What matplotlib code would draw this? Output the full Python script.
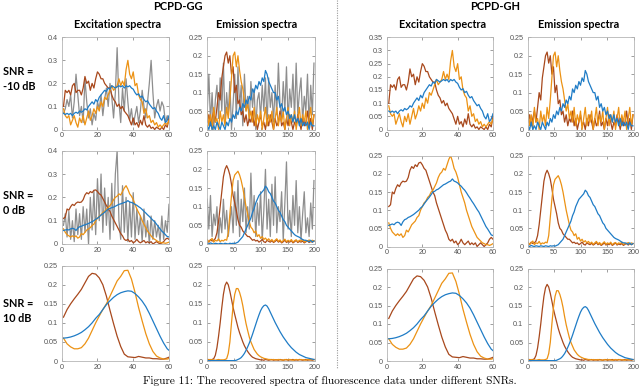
import numpy as np
import matplotlib
matplotlib.use("Agg")
import matplotlib.pyplot as plt
from matplotlib.lines import Line2D
from matplotlib.ticker import FormatStrFormatter, MultipleLocator

# ---- data ----
# excitation: channels 1..60, emission: every 3rd channel 1..199
x_ex = np.arange(1, 61)
x_ex_s = np.arange(1, 62, 2)
x_em = np.arange(1, 200, 3)

# SNR = -10 dB
brown_ex1 = [0.10, 0.17, 0.16, 0.17, 0.15, 0.19, 0.20, 0.16, 0.17, 0.17,
             0.15, 0.18, 0.23, 0.20, 0.21, 0.17, 0.20, 0.18, 0.22, 0.25,
             0.24, 0.22, 0.22, 0.20, 0.19, 0.18, 0.18, 0.15, 0.13, 0.12,
             0.10, 0.11, 0.09, 0.10, 0.08, 0.07, 0.06, 0.04, 0.02, 0.05,
             0.02, 0.03, 0.01, 0.04, 0.02, 0.06, 0.02, 0.01, 0.02, 0.005,
             0.01, 0.0, 0.01, 0.005, 0.0, 0.01, 0.0, 0.02, 0.01, 0.05]
orange_ex1 = [0.09, 0.06, 0.05, 0.06, 0.02, 0.04, 0.06, 0.03, 0.01, 0.05,
              0.03, 0.06, 0.02, 0.05, 0.08, 0.04, 0.06, 0.09, 0.07, 0.10,
              0.08, 0.12, 0.10, 0.14, 0.13, 0.15, 0.17, 0.19, 0.17, 0.18,
              0.19, 0.22, 0.19, 0.21, 0.19, 0.26, 0.30, 0.24, 0.22, 0.25,
              0.19, 0.20, 0.15, 0.13, 0.12, 0.07, 0.09, 0.05, 0.06, 0.03,
              0.04, 0.02, 0.03, 0.01, 0.02, 0.01, 0.02, 0.03, 0.02, 0.04]
blue_ex1 = [0.07, 0.065, 0.07, 0.065, 0.07, 0.06, 0.07, 0.075, 0.07, 0.08,
            0.075, 0.08, 0.09, 0.085, 0.10, 0.11, 0.12, 0.11, 0.13, 0.12,
            0.14, 0.15, 0.16, 0.17, 0.165, 0.18, 0.175, 0.19, 0.185, 0.18,
            0.185, 0.19, 0.185, 0.19, 0.18, 0.19, 0.185, 0.19, 0.18, 0.175,
            0.16, 0.15, 0.155, 0.14, 0.145, 0.13, 0.12, 0.125, 0.11, 0.10,
            0.09, 0.095, 0.08, 0.07, 0.05, 0.04, 0.06, 0.03, 0.04, 0.06]
gray_ex1 = [0.07, 0.09, 0.13, 0.10, 0.15, 0.05, 0.12, 0.24, 0.15, 0.06,
            0.10, 0.03, 0.22, 0.12, 0.05, 0.09, 0.02, 0.07, 0.04, 0.12,
            0.09, 0.15, 0.06, 0.13, 0.18, 0.10, 0.20, 0.14, 0.05, 0.16,
            0.355, 0.12, 0.03, 0.18, 0.08, 0.22, 0.12, 0.04, 0.09, 0.02,
            0.06, 0.10, 0.03, 0.08, 0.17, 0.10, 0.05, 0.12, 0.20, 0.30,
            0.16, 0.05, 0.10, 0.13, 0.08, 0.12, 0.10, 0.03, 0.06, 0.04]

brown_em1 = [0.02, 0.04, 0.01, 0.03, 0.05, 0.02, 0.06, 0.10, 0.08, 0.14,
             0.17, 0.20, 0.21, 0.18, 0.20, 0.15, 0.17, 0.10, 0.12, 0.07,
             0.08, 0.04, 0.05, 0.02, 0.04, 0.01, 0.03, 0.02, 0.05, 0.01,
             0.03, 0.00, 0.02, 0.04, 0.01, 0.02, 0.00, 0.03, 0.01, 0.04,
             0.02, 0.00, 0.03, 0.01, 0.02, 0.05, 0.01, 0.02, 0.00, 0.03,
             0.01, 0.04, 0.02, 0.00, 0.02, 0.01, 0.04, 0.02, 0.00, 0.03,
             0.01, 0.02, 0.05, 0.01, 0.03, 0.00, 0.04]
orange_em1 = [0.05, 0.01, 0.04, 0.00, 0.06, 0.02, 0.03, 0.00, 0.05, 0.02,
              0.04, 0.01, 0.06, 0.03, 0.08, 0.14, 0.20, 0.21, 0.17, 0.20,
              0.16, 0.13, 0.11, 0.08, 0.05, 0.07, 0.03, 0.05, 0.02, 0.06,
              0.01, 0.04, 0.02, 0.05, 0.00, 0.03, 0.06, 0.01, 0.04, 0.02,
              0.05, 0.00, 0.03, 0.06, 0.01, 0.04, 0.02, 0.05, 0.00, 0.03,
              0.06, 0.01, 0.04, 0.02, 0.05, 0.00, 0.03, 0.06, 0.01, 0.04,
              0.02, 0.05, 0.00, 0.03, 0.06, 0.01, 0.04]
blue_em1 = [0.01, 0.00, 0.02, 0.00, 0.01, 0.00, 0.02, 0.01, 0.00, 0.02,
            0.01, 0.00, 0.02, 0.01, 0.03, 0.02, 0.04, 0.03, 0.05, 0.04,
            0.06, 0.05, 0.07, 0.06, 0.08, 0.07, 0.09, 0.08, 0.11, 0.10,
            0.12, 0.11, 0.13, 0.12, 0.14, 0.13, 0.16, 0.15, 0.13, 0.12,
            0.11, 0.10, 0.10, 0.08, 0.09, 0.06, 0.07, 0.05, 0.06, 0.04,
            0.05, 0.03, 0.04, 0.02, 0.04, 0.02, 0.03, 0.01, 0.03, 0.01,
            0.02, 0.01, 0.02, 0.00, 0.02, 0.01, 0.01]
gray_em1 = [0.05, 0.15, 0.02, 0.10, 0.00, 0.08, 0.12, 0.03, 0.14, 0.05,
            0.18, 0.02, 0.10, 0.04, 0.13, 0.00, 0.07, 0.15, 0.03, 0.17,
            0.06, 0.12, 0.01, 0.15, 0.05, 0.09, 0.02, 0.13, 0.06, 0.11,
            0.00, 0.08, 0.10, 0.03, 0.12, 0.05, 0.14, 0.01, 0.14, 0.06,
            0.10, 0.02, 0.12, 0.04, 0.18, 0.07, 0.03, 0.13, 0.05, 0.17,
            0.02, 0.11, 0.06, 0.15, 0.03, 0.18, 0.04, 0.10, 0.14, 0.02,
            0.09, 0.05, 0.15, 0.01, 0.12, 0.04, 0.18]

# SNR = 0 dB
brown_ex2 = [0.11, 0.115, 0.15, 0.145, 0.16, 0.17, 0.165, 0.175, 0.18, 0.178,
             0.18, 0.19, 0.21, 0.22, 0.215, 0.225, 0.22, 0.23, 0.232, 0.225,
             0.215, 0.21, 0.195, 0.18, 0.165, 0.15, 0.14, 0.12, 0.105, 0.09,
             0.075, 0.06, 0.045, 0.035, 0.02, 0.015, 0.02, 0.01, 0.015, 0.005,
             0.01, 0.02, 0.01, 0.005, 0.01, 0.015, 0.005, 0.01, 0.005, 0.01,
             0.0, 0.005, 0.01, 0.005, 0.0, 0.005, 0.01, 0.02, 0.025, 0.02]
orange_ex2 = [0.065, 0.05, 0.04, 0.035, 0.03, 0.035, 0.03, 0.035, 0.025, 0.03,
              0.045, 0.04, 0.05, 0.06, 0.065, 0.07, 0.08, 0.085, 0.10, 0.11,
              0.12, 0.125, 0.135, 0.14, 0.15, 0.155, 0.165, 0.175, 0.19, 0.20,
              0.205, 0.215, 0.21, 0.225, 0.24, 0.25, 0.235, 0.215, 0.205, 0.19,
              0.17, 0.15, 0.135, 0.12, 0.10, 0.085, 0.07, 0.055, 0.045, 0.035,
              0.025, 0.02, 0.015, 0.01, 0.008, 0.005, 0.005, 0.003, 0.005, 0.008]
blue_ex2 = [0.058, 0.06, 0.062, 0.06, 0.065, 0.067, 0.065, 0.058, 0.068, 0.074,
            0.076, 0.08, 0.082, 0.085, 0.088, 0.092, 0.096, 0.10, 0.106, 0.11,
            0.117, 0.124, 0.13, 0.136, 0.143, 0.15, 0.152, 0.156, 0.158, 0.162,
            0.166, 0.17, 0.172, 0.175, 0.178, 0.18, 0.186, 0.18, 0.178, 0.175,
            0.17, 0.166, 0.16, 0.155, 0.148, 0.14, 0.133, 0.125, 0.118, 0.11,
            0.102, 0.095, 0.085, 0.075, 0.065, 0.055, 0.048, 0.04, 0.032, 0.03]
gray_ex2 = [0.08, 0.13, 0.03, 0.14, 0.02, 0.10, 0.01, 0.15, 0.04, 0.13,
            0.02, 0.16, 0.05, 0.15, 0.00, 0.20, 0.06, 0.23, 0.04, 0.28,
            0.10, 0.30, 0.05, 0.24, 0.08, 0.20, 0.02, 0.26, 0.06, 0.30,
            0.40, 0.10, 0.02, 0.25, 0.05, 0.20, 0.01, 0.18, 0.03, 0.22,
            0.02, 0.15, 0.04, 0.12, 0.01, 0.15, 0.03, 0.10, 0.00, 0.12,
            0.02, 0.10, 0.03, 0.08, 0.01, 0.12, 0.02, 0.10, 0.05, 0.17]

brown_em2 = [0.01, 0.005, 0.012, 0.008, 0.01, 0.015, 0.03, 0.06, 0.10, 0.14,
             0.18, 0.20, 0.21, 0.20, 0.185, 0.16, 0.13, 0.11, 0.09, 0.065,
             0.05, 0.045, 0.035, 0.03, 0.025, 0.02, 0.02, 0.015, 0.01, 0.012,
             0.008, 0.01, 0.005, 0.008, 0.012, 0.006, 0.004, 0.01, 0.007, 0.005,
             0.009, 0.004, 0.007, 0.011, 0.005, 0.008, 0.003, 0.006, 0.01, 0.004,
             0.007, 0.005, 0.009, 0.003, 0.006, 0.01, 0.004, 0.007, 0.005, 0.008,
             0.003, 0.006, 0.009, 0.004, 0.007, 0.005, 0.008]
orange_em2 = [0.012, 0.006, 0.01, 0.015, 0.005, 0.01, 0.008, 0.014, 0.006, 0.01,
              0.008, 0.012, 0.01, 0.03, 0.08, 0.13, 0.17, 0.185, 0.19, 0.195,
              0.185, 0.17, 0.15, 0.125, 0.10, 0.08, 0.06, 0.045, 0.04, 0.03,
              0.035, 0.02, 0.025, 0.015, 0.02, 0.012, 0.016, 0.01, 0.014, 0.008,
              0.012, 0.006, 0.01, 0.014, 0.007, 0.011, 0.005, 0.009, 0.013, 0.006,
              0.01, 0.007, 0.012, 0.005, 0.009, 0.011, 0.006, 0.01, 0.008, 0.012,
              0.005, 0.009, 0.007, 0.011, 0.006, 0.01, 0.008]
blue_em2 = [0.002, 0.0, 0.003, 0.001, 0.0, 0.002, 0.001, 0.0, 0.002, 0.001,
            0.0, 0.002, 0.001, 0.0, 0.002, 0.001, 0.002, 0.001, 0.003, 0.005,
            0.01, 0.015, 0.02, 0.03, 0.04, 0.05, 0.06, 0.07, 0.085, 0.095,
            0.11, 0.12, 0.13, 0.135, 0.14, 0.145, 0.155, 0.15, 0.14, 0.135,
            0.125, 0.115, 0.11, 0.10, 0.09, 0.085, 0.075, 0.065, 0.06, 0.05,
            0.045, 0.04, 0.035, 0.03, 0.025, 0.022, 0.02, 0.018, 0.015, 0.012,
            0.01, 0.01, 0.008, 0.006, 0.01, 0.005, 0.008]
gray_em2 = [0.12, 0.04, 0.13, 0.02, 0.08, 0.05, 0.10, 0.01, 0.07, 0.03,
            0.12, 0.04, 0.09, 0.02, 0.06, 0.10, 0.03, 0.14, 0.05, 0.17,
            0.02, 0.12, 0.06, 0.15, 0.03, 0.10, 0.04, 0.19, 0.06, 0.13,
            0.02, 0.11, 0.05, 0.14, 0.01, 0.09, 0.20, 0.04, 0.12, 0.02,
            0.16, 0.05, 0.18, 0.03, 0.10, 0.06, 0.14, 0.01, 0.11, 0.22,
            0.04, 0.09, 0.02, 0.13, 0.05, 0.17, 0.03, 0.10, 0.01, 0.08,
            0.14, 0.03, 0.07, 0.02, 0.11, 0.04, 0.17]

# SNR = 10 dB (every 2nd excitation channel)
brown_ex3 = [0.115, 0.135, 0.15, 0.163, 0.175, 0.188, 0.205, 0.222, 0.23, 0.228,
             0.218, 0.20, 0.17, 0.133, 0.098, 0.065, 0.038, 0.018, 0.011, 0.01,
             0.009, 0.012, 0.01, 0.008, 0.008, 0.006, 0.006, 0.005, 0.005, 0.008,
             0.012]
orange_ex3 = [0.06, 0.045, 0.037, 0.032, 0.032, 0.035, 0.045, 0.06, 0.08, 0.10,
              0.118, 0.135, 0.15, 0.17, 0.19, 0.21, 0.222, 0.237, 0.238, 0.215,
              0.18, 0.14, 0.105, 0.072, 0.045, 0.025, 0.013, 0.008, 0.005, 0.005,
              0.008]
blue_ex3 = [0.06, 0.061, 0.063, 0.066, 0.07, 0.075, 0.082, 0.09, 0.10, 0.112,
            0.122, 0.135, 0.148, 0.158, 0.167, 0.174, 0.179, 0.182, 0.184, 0.183,
            0.177, 0.168, 0.157, 0.143, 0.125, 0.105, 0.085, 0.065, 0.047, 0.032,
            0.024]

brown_em3 = [0.003, 0.004, 0.003, 0.004, 0.006, 0.015, 0.035, 0.065, 0.10, 0.14,
             0.175, 0.198, 0.207, 0.20, 0.183, 0.162, 0.14, 0.122, 0.105, 0.088,
             0.074, 0.062, 0.05, 0.04, 0.032, 0.025, 0.019, 0.014, 0.01, 0.008,
             0.006, 0.005, 0.004, 0.003, 0.003, 0.002, 0.004, 0.003, 0.002, 0.003,
             0.004, 0.002, 0.003, 0.003, 0.002, 0.004, 0.003, 0.002, 0.003, 0.004,
             0.002, 0.003, 0.003, 0.004, 0.002, 0.003, 0.002, 0.004, 0.003, 0.002,
             0.003, 0.004, 0.002, 0.003, 0.003, 0.002, 0.004]
orange_em3 = [0.003, 0.003, 0.004, 0.003, 0.003, 0.002, 0.003, 0.004, 0.003, 0.003,
              0.003, 0.004, 0.006, 0.02, 0.05, 0.10, 0.145, 0.175, 0.19, 0.19,
              0.18, 0.165, 0.145, 0.12, 0.098, 0.08, 0.063, 0.05, 0.04, 0.03,
              0.024, 0.018, 0.014, 0.011, 0.009, 0.007, 0.006, 0.005, 0.004, 0.004,
              0.003, 0.004, 0.003, 0.003, 0.004, 0.003, 0.003, 0.002, 0.004, 0.003,
              0.003, 0.004, 0.003, 0.002, 0.003, 0.004, 0.003, 0.003, 0.004, 0.003,
              0.003, 0.002, 0.004, 0.003, 0.003, 0.004, 0.003]
blue_em3 = [0.001, 0.001, 0.001, 0.001, 0.001, 0.001, 0.001, 0.001, 0.001, 0.001,
            0.001, 0.001, 0.001, 0.001, 0.001, 0.001, 0.001, 0.001, 0.002, 0.004,
            0.006, 0.009, 0.014, 0.02, 0.028, 0.037, 0.047, 0.058, 0.07, 0.083,
            0.096, 0.109, 0.121, 0.132, 0.14, 0.145, 0.147, 0.144, 0.137, 0.128,
            0.119, 0.11, 0.101, 0.093, 0.085, 0.077, 0.07, 0.063, 0.057, 0.051,
            0.045, 0.04, 0.035, 0.031, 0.027, 0.023, 0.02, 0.017, 0.015, 0.013,
            0.011, 0.009, 0.008, 0.007, 0.006, 0.005, 0.004]

# ---- style ----
BROWN, ORANGE, BLUE, GRAY = "#a8481c", "#ec9214", "#1f7cc6", "#8e8e8e"
W, H = 640, 386
BOLD = ["Lato", "DejaVu Sans"]

fig = plt.figure(figsize=(6.4, 3.86), dpi=100)


def add_ax(left, top, right, bottom):
    return fig.add_axes([left / W, 1 - bottom / H, (right - left) / W, (bottom - top) / H])


def panel(ax, x, series, xmax, xstep, ymax, ystep):
    for y, c in series:
        ax.plot(x, y, color=c, lw=0.9)
    ax.set_xlim(0, xmax)
    ax.set_ylim(0, ymax)
    ax.xaxis.set_major_locator(MultipleLocator(xstep))
    ax.yaxis.set_major_locator(MultipleLocator(ystep))
    ax.yaxis.set_major_formatter(FormatStrFormatter("%g"))
    ax.tick_params(direction="in", length=2, width=0.4, colors="#555555",
                   labelsize=5.2, top=True, right=True, pad=2)
    ax.tick_params(axis="y", pad=3)
    for s in ax.spines.values():
        s.set_color("#b5b5b5")
        s.set_linewidth(0.6)
    for lab in ax.get_xticklabels() + ax.get_yticklabels():
        lab.set_fontfamily("Liberation Sans")


cols = {"gg_ex": (61.7, 169), "gg_em": (206.7, 314.5),
        "gh_ex": (387, 493), "gh_em": (527.5, 633.5)}
rows_gg = [(37.3, 129.5), (150.7, 244), (265.7, 361)]
rows_gh = [(37.3, 129.5), (155.7, 246.5), (268.5, 361)]

ex_sets = [(x_ex, brown_ex1, orange_ex1, blue_ex1, gray_ex1),
           (x_ex, brown_ex2, orange_ex2, blue_ex2, gray_ex2),
           (x_ex_s, brown_ex3, orange_ex3, blue_ex3, None)]
em_sets = [(x_em, brown_em1, orange_em1, blue_em1, gray_em1),
           (x_em, brown_em2, orange_em2, blue_em2, gray_em2),
           (x_em, brown_em3, orange_em3, blue_em3, None)]
gg_ex_ymax = [0.4, 0.4, 0.25]
gh_ex_ymax = [0.35, 0.25, 0.25]

for r in range(3):
    x, b, o, bl, g = ex_sets[r]
    base = [(b, BROWN), (o, ORANGE), (bl, BLUE)]
    gser = ([(g, GRAY)] if g is not None else []) + base
    ax = add_ax(cols["gg_ex"][0], rows_gg[r][0], cols["gg_ex"][1], rows_gg[r][1])
    panel(ax, x, gser, 60, 20, gg_ex_ymax[r], 0.1 if gg_ex_ymax[r] > 0.35 else 0.05)
    ax = add_ax(cols["gh_ex"][0], rows_gh[r][0], cols["gh_ex"][1], rows_gh[r][1])
    panel(ax, x, base, 60, 20, gh_ex_ymax[r], 0.05)

    x, b, o, bl, g = em_sets[r]
    base = [(b, BROWN), (o, ORANGE), (bl, BLUE)]
    gser = ([(g, GRAY)] if g is not None else []) + base
    ax = add_ax(cols["gg_em"][0], rows_gg[r][0], cols["gg_em"][1], rows_gg[r][1])
    panel(ax, x, gser, 200, 50, 0.25, 0.05)
    ax = add_ax(cols["gh_em"][0], rows_gh[r][0], cols["gh_em"][1], rows_gh[r][1])
    panel(ax, x, base, 200, 50, 0.25, 0.05)

# titles and labels
def ftext(px, py, s, **kw):
    fig.text(px / W, 1 - py / H, s, **kw)

ftext(178, 7, "PCPD-GG", ha="center", va="center", fontsize=8, fontweight="bold", family=BOLD)
ftext(495.5, 7, "PCPD-GH", ha="center", va="center", fontsize=8, fontweight="bold", family=BOLD)
for cx, s in [(117.5, "Excitation spectra"), (256.7, "Emission spectra"),
              (442.6, "Excitation spectra"), (579, "Emission spectra")]:
    ftext(cx, 25, s, ha="center", va="center", fontsize=7.8, fontweight="bold", family=BOLD)
for cy, s in [(79, "SNR =\n-10 dB"), (203, "SNR =\n0 dB"), (311, "SNR =\n10 dB")]:
    ftext(3, cy, s, ha="left", va="center", fontsize=7.8, fontweight="bold",
          family=BOLD, linespacing=1.35)

# dotted separator between the two methods
fig.add_artist(Line2D([337.3 / W, 337.3 / W], [1.0, 1 - 368 / H], color="#9a9a9a",
                      lw=0.8, linestyle=(0, (1, 1.2))))

# caption at the bottom edge
ftext(330, 385.5, "Figure 11: The recovered spectra of fluorescence data under different SNRs.",
      ha="center", va="bottom", fontsize=8.1, family="cmr10")

fig.savefig("out.png", dpi=100)
